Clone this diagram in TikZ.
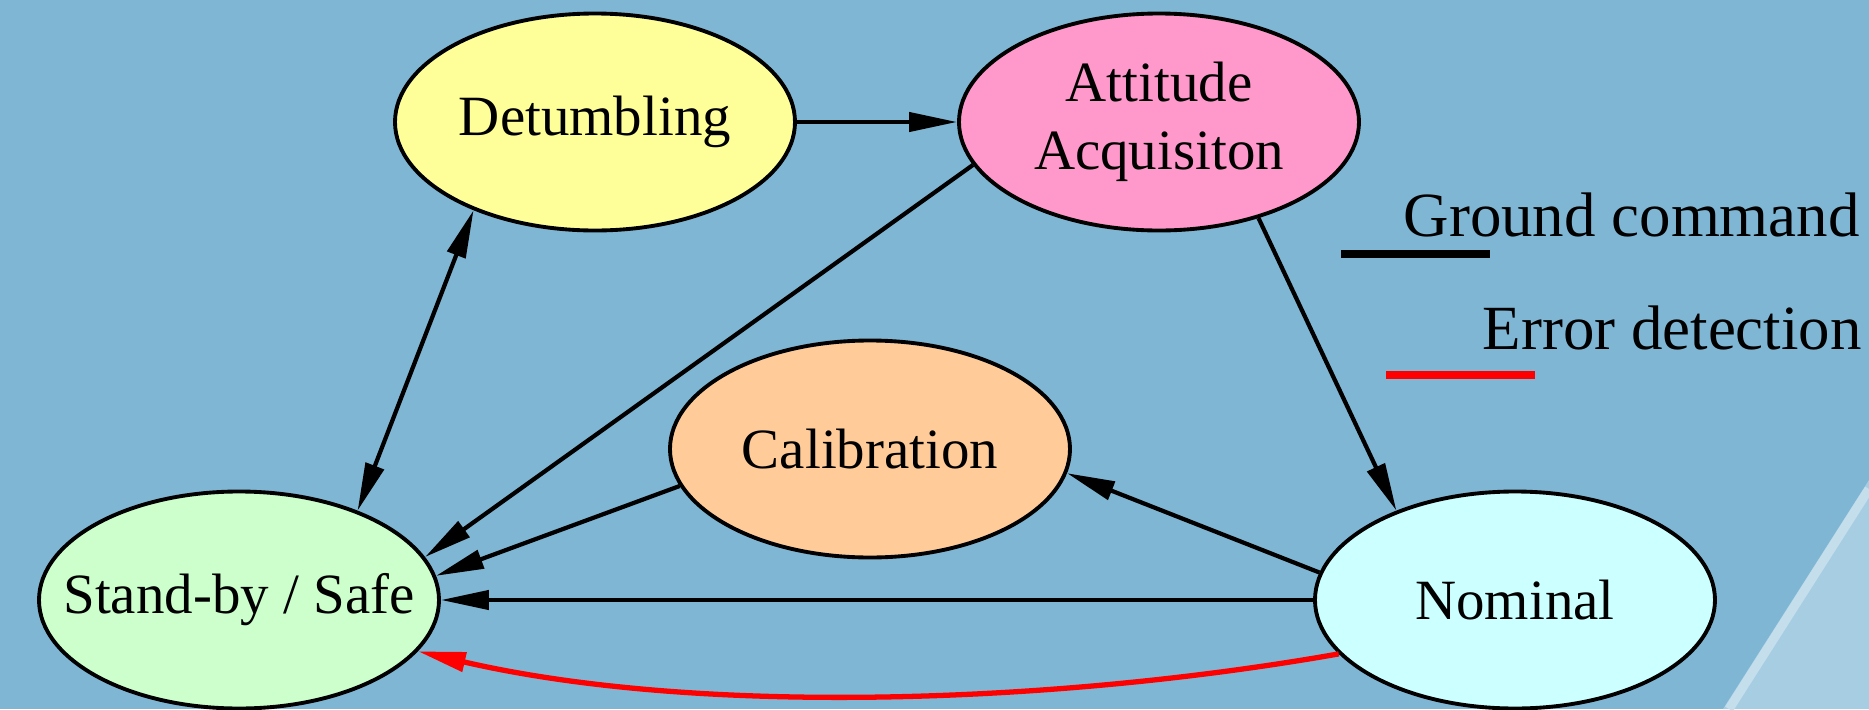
\documentclass[tikz,border=0pt]{standalone}
\usepackage{fontspec}
\setmainfont{Liberation Serif}
\usetikzlibrary{shapes.geometric, arrows.meta}
\definecolor{bgblue}{RGB}{126,182,212}
\definecolor{stripe}{RGB}{166,205,226}
\definecolor{stripeedge}{RGB}{196,222,236}

\begin{document}
\begin{tikzpicture}[
  state/.style={ellipse, draw, line width=1.1pt, minimum width=4cm, minimum height=2.17cm,
    inner xsep=-0.5cm, inner ysep=0pt, align=center, font=\fontsize{16.2}{19.4}\selectfont},
  arr/.style={line width=1.2pt, -{Triangle[length=4.8mm, width=1.9mm]}},
  darr/.style={line width=1.2pt, {Triangle[length=4.8mm, width=1.9mm]}-{Triangle[length=4.8mm, width=1.9mm]}}]
\useasboundingbox (0,0) rectangle (18.69,7.09);
\fill[bgblue] (0,0) rectangle (18.69,7.09);
% light band in the corner
\fill[stripe] (17.23,0) -- (18.69,2.29) -- (18.69,0) -- cycle;
\draw[stripeedge, line width=2.6pt] (17.29,0) -- (18.69,2.20);

\node[state, fill={rgb,255:red,255;green,255;blue,153}] (det) at (5.95,5.87) {Detumbling};
\node[state, fill={rgb,255:red,255;green,153;blue,204}] (att) at (11.59,5.87) {Attitude\\Acquisiton};
\node[state, fill={rgb,255:red,255;green,204;blue,153}] (cal) at (8.70,2.60) {Calibration};
\node[state, fill={rgb,255:red,204;green,255;blue,204}] (sb) at (2.39,1.09) {Stand-by / Safe};
\node[state, fill={rgb,255:red,204;green,255;blue,255}] (nom) at (15.15,1.09) {Nominal};

\draw[arr] (det) -- (att);
\draw[darr] (det.216) -- (sb.37);
\draw[arr] (att.193) -- (sb.13);
\draw[arr] (att.316) -- (nom.143);
\draw[arr] (cal.191) -- (sb.7);
\draw[arr] (nom.172) -- (cal.353);
\draw[arr] (nom) -- (sb);
\draw[arr, red, line width=1.5pt] (nom.197) to[out=190, in=-13, looseness=0.8] (sb.-16);

% legend
\node[anchor=base west, font=\fontsize{17.9}{21}\selectfont, inner sep=0pt] (gc) at (14.03,4.73) {Ground command};
\node[anchor=base west, font=\fontsize{17.9}{21}\selectfont, inner sep=0pt] (ed) at (14.82,3.60) {Error detection};
\draw[line width=2pt] (13.41,4.55) -- (14.90,4.55);
\draw[red, line width=2pt] (13.86,3.34) -- (15.35,3.34);
\end{tikzpicture}
\end{document}
